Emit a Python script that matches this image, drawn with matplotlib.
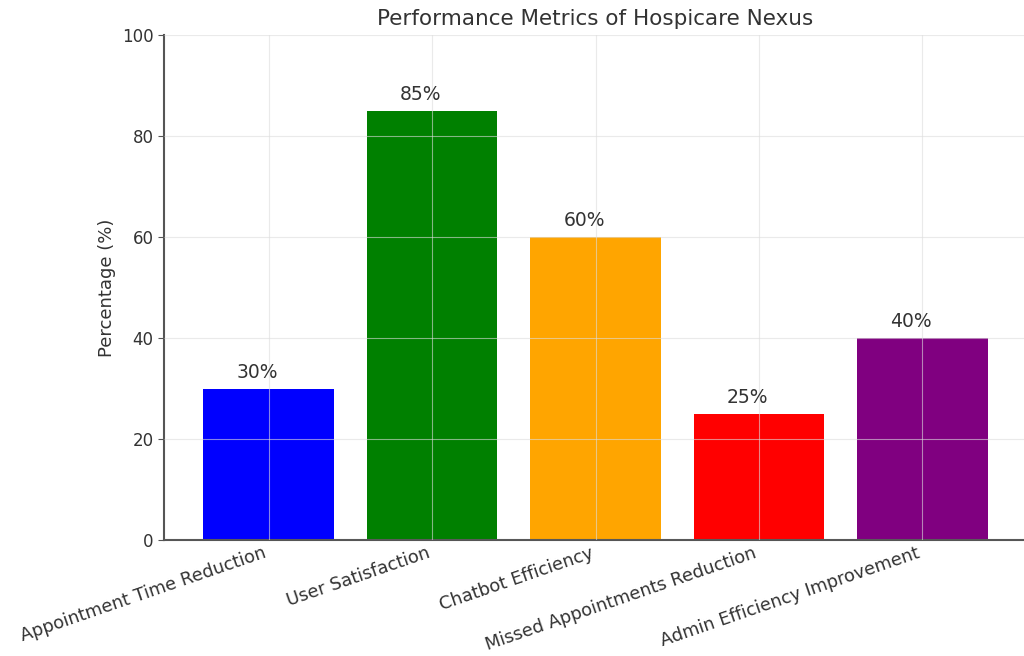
import matplotlib.pyplot as plt

categories = ["Appointment Time Reduction", "User Satisfaction", "Chatbot Efficiency",
              "Missed Appointments Reduction", "Admin Efficiency Improvement"]
values = [30, 85, 60, 25, 40]
colors = ["blue", "green", "orange", "red", "purple"]

fig = plt.figure(figsize=(10.24, 6.56), dpi=100)
ax = fig.add_axes([164 / 1024, 1 - 540 / 656, (1027 - 164) / 1024, (540 - 35) / 656])

bars = ax.bar(categories, values, color=colors, width=0.8)
# value labels sit a little left of each bar's centre
for bar, v in zip(bars, values):
    ax.text(bar.get_x() + bar.get_width() / 2 - 0.07, v + 1.3, f"{v}%",
            ha="center", va="bottom", fontsize=13.5, color="#333333")

ax.set_ylim(0, 100)
ax.set_yticks([0, 20, 40, 60, 80, 100])
ax.set_title("Performance Metrics of Hospicare Nexus", fontsize=15.5, color="#333333",
             y=1.0, pad=7)
ax.set_ylabel("Percentage (%)", fontsize=13, color="#333333")
ax.grid(True, color="#dddddd", linewidth=0.8, alpha=0.6)
ax.set_axisbelow(False)

for side in ["top", "right"]:
    ax.spines[side].set_visible(False)
for side in ["left", "bottom"]:
    ax.spines[side].set_color("#555555")
    ax.spines[side].set_linewidth(1.5)

ax.tick_params(axis="y", labelsize=12, colors="#333333", length=4, color="#555555")
ax.tick_params(axis="x", labelsize=12.8, colors="#333333", length=0, pad=3)
plt.setp(ax.get_xticklabels(), rotation=19, ha="right")

fig.savefig("out.png", dpi=100)
